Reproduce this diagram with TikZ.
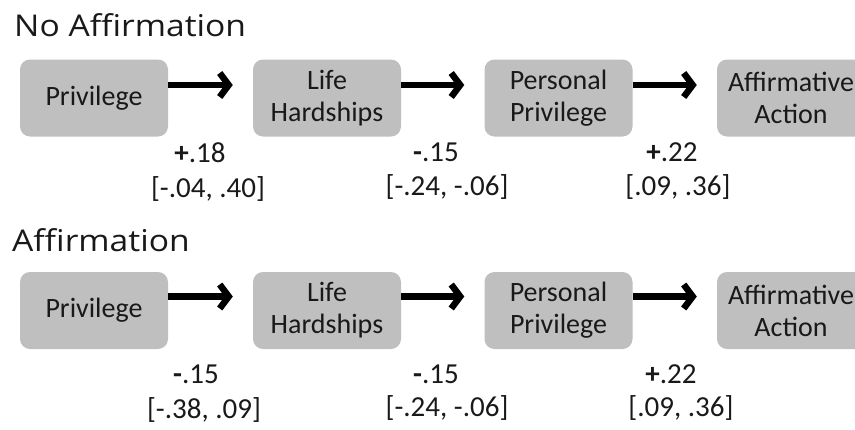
\documentclass[tikz,border=0pt]{standalone}
\usepackage{fontspec}
\setmainfont{Carlito}
\newfontfamily\titlefont[FakeStretch=1.12]{Open Sans}
\usetikzlibrary{arrows.meta,calc}
\definecolor{boxgray}{RGB}{191,191,191}
\definecolor{txt}{RGB}{25,25,25}
\begin{document}
\begin{tikzpicture}[x=1pt,y=-1pt,
  vbox/.style={fill=boxgray,rounded corners=10pt,minimum width=148pt,minimum height=77pt,
    inner sep=0pt,align=center,text=txt,font=\fontsize{28}{32}\selectfont},
  arr/.style={line width=6.5pt,-{Straight Barb[length=9pt,width=24pt,line width=6.5pt]},line cap=butt},
  lab/.style={text=txt,font=\fontsize{29}{32}\selectfont,inner sep=0pt,anchor=center},
  ttl/.style={text=txt,font=\titlefont\fontsize{30}{34}\selectfont,inner sep=0pt,anchor=base west}]
\useasboundingbox (0,0) rectangle (855,429);
\begin{scope}
\clip (0,0) rectangle (855,429);
% titles
\node[ttl] (t1) at (14,36) {No Affirmation};
\node[ttl] (t2) at (12,251) {Affirmation};
% row 1
\node[vbox] (a1) at (94,98) {Privilege};
\node[vbox] (b1) at (327,98) {Life\\Hardships};
\node[vbox] (c1) at (558.5,98) {Personal\\Privilege};
\node[vbox] (d1) at (791,98) {Affirmative\\Action};
\draw[arr] ($(a1.east)+(0,-13)$) -- ($(b1.west)+(-20,-13)$);
\draw[arr] ($(b1.east)+(0,-13)$) -- ($(c1.west)+(-20,-13)$);
\draw[arr] ($(c1.east)+(0,-13)$) -- ($(d1.west)+(-20,-13)$);
\node[lab] (e1) at (200,153) {\textbf{+}.18};
\node[lab] (f1) at (208,189) {[-.04, .40]};
\node[lab] (e2) at (436,152) {\textbf{-}.15};
\node[lab] (f2) at (447,187) {[-.24, -.06]};
\node[lab] (e3) at (672,152) {\textbf{+}.22};
\node[lab] (f3) at (678,187) {[.09, .36]};
% row 2
\node[vbox] (a2) at (94,310.5) {Privilege};
\node[vbox] (b2) at (327,310.5) {Life\\Hardships};
\node[vbox] (c2) at (558.5,310.5) {Personal\\Privilege};
\node[vbox] (d2) at (791,310.5) {Affirmative\\Action};
\draw[arr] ($(a2.east)+(0,-14)$) -- ($(b2.west)+(-20,-14)$);
\draw[arr] ($(b2.east)+(0,-14)$) -- ($(c2.west)+(-20,-14)$);
\draw[arr] ($(c2.east)+(0,-14)$) -- ($(d2.west)+(-20,-14)$);
\node[lab] (g1) at (196,374) {\textbf{-}.15};
\node[lab] (h1) at (204,410) {[-.38, .09]};
\node[lab] (g2) at (436,374) {\textbf{-}.15};
\node[lab] (h2) at (447,408) {[-.24, -.06]};
\node[lab] (g3) at (671,374) {\textbf{+}.22};
\node[lab] (h3) at (681,408) {[.09, .36]};
\end{scope}
\end{tikzpicture}
\end{document}
